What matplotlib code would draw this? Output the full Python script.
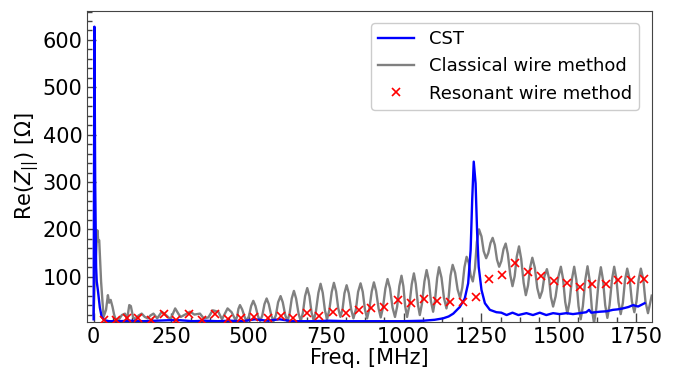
import matplotlib
matplotlib.use('Agg')
import matplotlib.pyplot as plt
from matplotlib.ticker import MultipleLocator

# CST simulation (blue)
cst_freq = [0, 2.5, 5, 8, 10, 14, 20, 26, 35, 50, 80, 120, 160, 200, 240, 280, 320,
            360, 400, 440, 480, 520, 560, 600, 640, 700, 760, 820, 880, 940, 1000,
            1063, 1100, 1127, 1145, 1160, 1181, 1197, 1208, 1216, 1221, 1226, 1232,
            1237, 1242, 1251, 1262, 1278, 1299, 1315, 1332, 1351, 1370, 1396, 1417,
            1439, 1460, 1482, 1503, 1525, 1546, 1568, 1589, 1598, 1605, 1632, 1655,
            1675, 1690, 1707, 1725, 1740, 1756, 1777]
cst_re = [10, 628, 300, 120, 90, 70, 35, 15, 8, 6, 6, 7, 6, 7, 8, 8, 6,
          7, 6, 7, 6, 10, 7, 10, 6, 6, 7, 6, 6, 6, 6,
          7, 9, 12, 16, 22, 36, 54, 86, 156, 262, 343, 297,
          192, 121, 72, 44, 30, 25, 24, 19, 24, 19, 23, 19,
          24, 19, 23, 21, 23, 21, 23, 25, 30, 24, 26, 27,
          30, 31, 33, 36, 40, 37, 44]

# classical wire method (gray)
cw_freq = [0, 5, 12, 15, 18, 24, 32, 40, 46, 50, 55, 61, 66, 71, 80, 91, 101,
           108, 115, 120, 127, 134, 145, 155, 165, 175, 183, 193, 205, 220, 235,
           248, 263, 275, 281, 295, 311, 325, 343, 355, 370, 384, 402, 414, 432,
           445, 458, 463, 467,
           472, 479, 487, 494, 501, 508, 515, 522, 530, 537, 544, 551,
           558, 565, 573, 580, 588, 595, 603, 610, 618, 625, 632, 639,
           646, 653, 661, 668, 675, 682, 689, 696, 703, 710, 717, 725,
           732, 739, 746, 753, 760, 768, 775, 782, 789, 796, 803, 809,
           816, 823, 831, 838, 846, 853, 861, 868, 875, 882, 889, 897,
           904, 911, 919, 926, 933, 941, 948, 956, 964, 972, 979, 986,
           993, 999, 1005, 1011, 1018, 1026, 1033, 1039, 1046, 1052, 1059, 1067,
           1074, 1081, 1088, 1095, 1101, 1108, 1114, 1122, 1130, 1138, 1145, 1151,
           1158, 1166, 1174, 1182, 1189, 1196, 1203, 1210, 1216, 1223, 1230, 1236,
           1243, 1251, 1258, 1266, 1273, 1280, 1287, 1294, 1301, 1308, 1315, 1322,
           1329, 1336, 1344, 1351, 1358, 1365, 1372, 1379, 1387, 1394, 1401, 1408,
           1415, 1423, 1431, 1439, 1447, 1454, 1462, 1469, 1475, 1482, 1490, 1499,
           1507, 1514, 1521, 1528, 1535, 1543, 1550, 1557, 1564, 1571, 1578, 1586,
           1593, 1600, 1607, 1614, 1621, 1629, 1636, 1643, 1650, 1657, 1664, 1672,
           1679, 1686, 1693, 1700, 1707, 1714, 1721, 1729, 1736, 1744, 1751, 1758,
           1765, 1773, 1780, 1788, 1800]
cw_re = [20, 120, 198, 175, 177, 90, 15, 30, 61, 45, 51, 36, 20, 10, 8, 19, 22,
         10, 40, 38, 15, 10, 18, 22, 15, 12, 18, 22, 12, 26, 18,
         10, 33, 20, 15, 20, 26, 20, 22, 12, 14, 29, 26, 10, 33,
         25, 8, 16, 32,
         40, 31, 15, 6, 17, 38, 49, 38, 17, 6, 18, 42,
         54, 42, 18, 6, 19, 46, 59, 46, 19, 6, 22, 54,
         70, 54, 22, 6, 24, 59, 76, 59, 24, 7, 27, 66,
         85, 66, 29, 10, 29, 68, 87, 69, 33, 15, 32, 65,
         82, 65, 30, 12, 31, 68, 86, 68, 31, 12, 31, 69,
         88, 70, 33, 14, 34, 75, 95, 75, 35, 15, 37, 80,
         102, 80, 37, 15, 38, 84, 107, 85, 41, 19, 43, 90,
         114, 92, 48, 26, 50, 97, 120, 98, 55, 33, 56, 102,
         125, 108, 73, 55, 77, 120, 142, 129, 103, 90, 118, 173,
         200, 185, 154, 139, 150, 171, 182, 167, 136, 121, 133, 158,
         170, 148, 103, 80, 101, 143, 164, 138, 87, 61, 81, 120,
         140, 119, 76, 55, 70, 101, 116, 96, 57, 37, 58, 100,
         121, 96, 47, 22, 47, 96, 121, 93, 38, 10, 38, 94,
         122, 92, 32, 2, 32, 91, 120, 93, 40, 13, 40, 94,
         121, 96, 46, 21, 45, 93, 117, 94, 48, 25, 48, 94,
         117, 94, 47, 23, 60]

# resonant wire method (red crosses)
rw_freq = [35, 72, 108, 144, 185, 226, 267, 308, 349, 392, 432, 475, 518, 561,
           603, 644, 687, 728, 771, 814, 855, 896, 937, 981, 1023, 1065, 1108,
           1150, 1192, 1233, 1275, 1317, 1359, 1401, 1442, 1484, 1527, 1568, 1608,
           1651, 1692, 1733, 1774]
rw_re = [8.5, 8.5, 12, 12, 8.5, 22, 8.5, 22, 8.5, 21, 10.6, 12, 15.5, 12,
         17.6, 13.4, 22.6, 16.3, 25.4, 24, 29.6, 34.5, 35.3, 51, 43.8, 52.3, 49.3,
         47.2, 47.2, 56.5, 94.5, 104.2, 128.3, 110.6, 102.1, 91.5, 87.3, 78.9, 83.9,
         84.6, 93, 93, 95.8]

fig = plt.figure(figsize=(6.86, 3.78), dpi=100)
ax = fig.add_axes([0.127, 0.149, 0.823, 0.823])

ax.plot(cst_freq, cst_re, color='blue', lw=1.7, label='CST', zorder=3)
ax.plot(cw_freq, cw_re, color='gray', lw=1.7, label='Classical wire method', zorder=2)
ax.plot(rw_freq, rw_re, 'x', color='red', ms=5.5, mew=1.2, label='Resonant wire method', zorder=4)

ax.set_xlim(-21, 1800)
ax.set_ylim(5, 662)
ax.xaxis.set_major_locator(MultipleLocator(250))
ax.xaxis.set_minor_locator(MultipleLocator(62.5))
ax.yaxis.set_major_locator(MultipleLocator(100))
ax.yaxis.set_minor_locator(MultipleLocator(20))
ax.tick_params(which='both', direction='in', color='#444444', labelsize=15)
ax.tick_params(which='major', length=6.5, width=1)
ax.tick_params(which='minor', length=3.5, width=1)
for sp in ax.spines.values():
    sp.set_color('#444444')

ax.set_xlabel('Freq. [MHz]', fontsize=15, labelpad=1)
ax.set_ylabel(r'Re($Z_{||}$) [$\Omega$]', fontsize=15, labelpad=1)
ax.legend(loc='upper right', fontsize=13, fancybox=True, framealpha=1,
          edgecolor='#cccccc', borderaxespad=0.7)

fig.savefig('out.png', dpi=100)
